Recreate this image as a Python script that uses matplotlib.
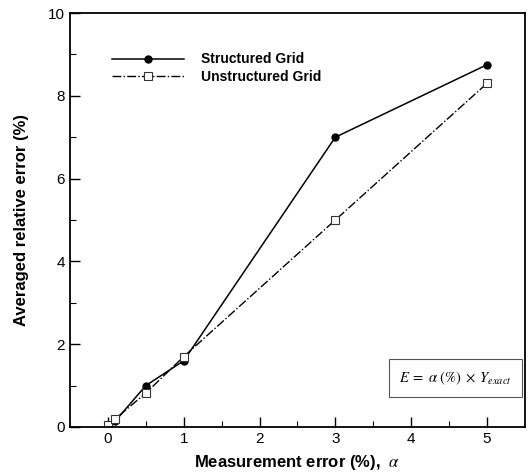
import numpy as np
import matplotlib.pyplot as plt

# measurement error (%) and averaged relative error (%)
alpha = [0, 0.1, 0.5, 1, 3, 5]
structured = [0.0, 0.15, 1.0, 1.6, 7.0, 8.75]
unstructured = [0.05, 0.2, 0.82, 1.7, 5.0, 8.3]

plt.rcParams['font.family'] = ['Liberation Sans', 'DejaVu Sans']
plt.rcParams['mathtext.fontset'] = 'stix'

fig = plt.figure(figsize=(5.28, 4.73), dpi=100)
ax = fig.add_axes([0.1326, 0.0973, 0.8614, 0.8752])

ax.plot(alpha, structured, 'k-', marker='o', ms=5, lw=1.1, label='Structured Grid')
ax.plot(alpha, unstructured, 'k-.', marker='s', ms=6, mfc='white', mec='#333333',
        mew=0.8, lw=1.0, label='Unstructured Grid')

ax.set_xlim(-0.5, 5.5)
ax.set_ylim(0, 10)
ax.set_xticks([0, 1, 2, 3, 4, 5])
ax.set_xticks(np.arange(0.5, 5, 1), minor=True)
ax.set_yticks([0, 2, 4, 6, 8, 10])
ax.set_yticks([1, 3, 5, 7, 9], minor=True)
ax.tick_params(which='both', direction='in', labelsize=11)
ax.tick_params(which='major', length=7, width=1)
ax.tick_params(which='minor', length=4, width=0.8)
for s in ax.spines.values():
    s.set_linewidth(1.3)

ax.set_xlabel(r'Measurement error (%),  $\alpha$', fontsize=12, fontweight='bold', labelpad=5)
ax.set_ylabel('Averaged relative error (%)', fontsize=12, fontweight='bold', labelpad=14)

leg = ax.legend(loc='upper left', bbox_to_anchor=(0.065, 0.935), frameon=False,
                handlelength=5.2, handletextpad=1.2, fontsize=10, labelspacing=0.25)
for t in leg.get_texts():
    t.set_fontweight('bold')

ax.text(0.848, 0.118, r'$E\;=\;\alpha\ (\%)\;\times\;Y_{exact}$', transform=ax.transAxes,
        ha='center', va='center', fontsize=10.5,
        bbox=dict(boxstyle='square,pad=0.7', fc='white', ec='#555555', lw=0.8))

fig.savefig('out.png', dpi=100)
